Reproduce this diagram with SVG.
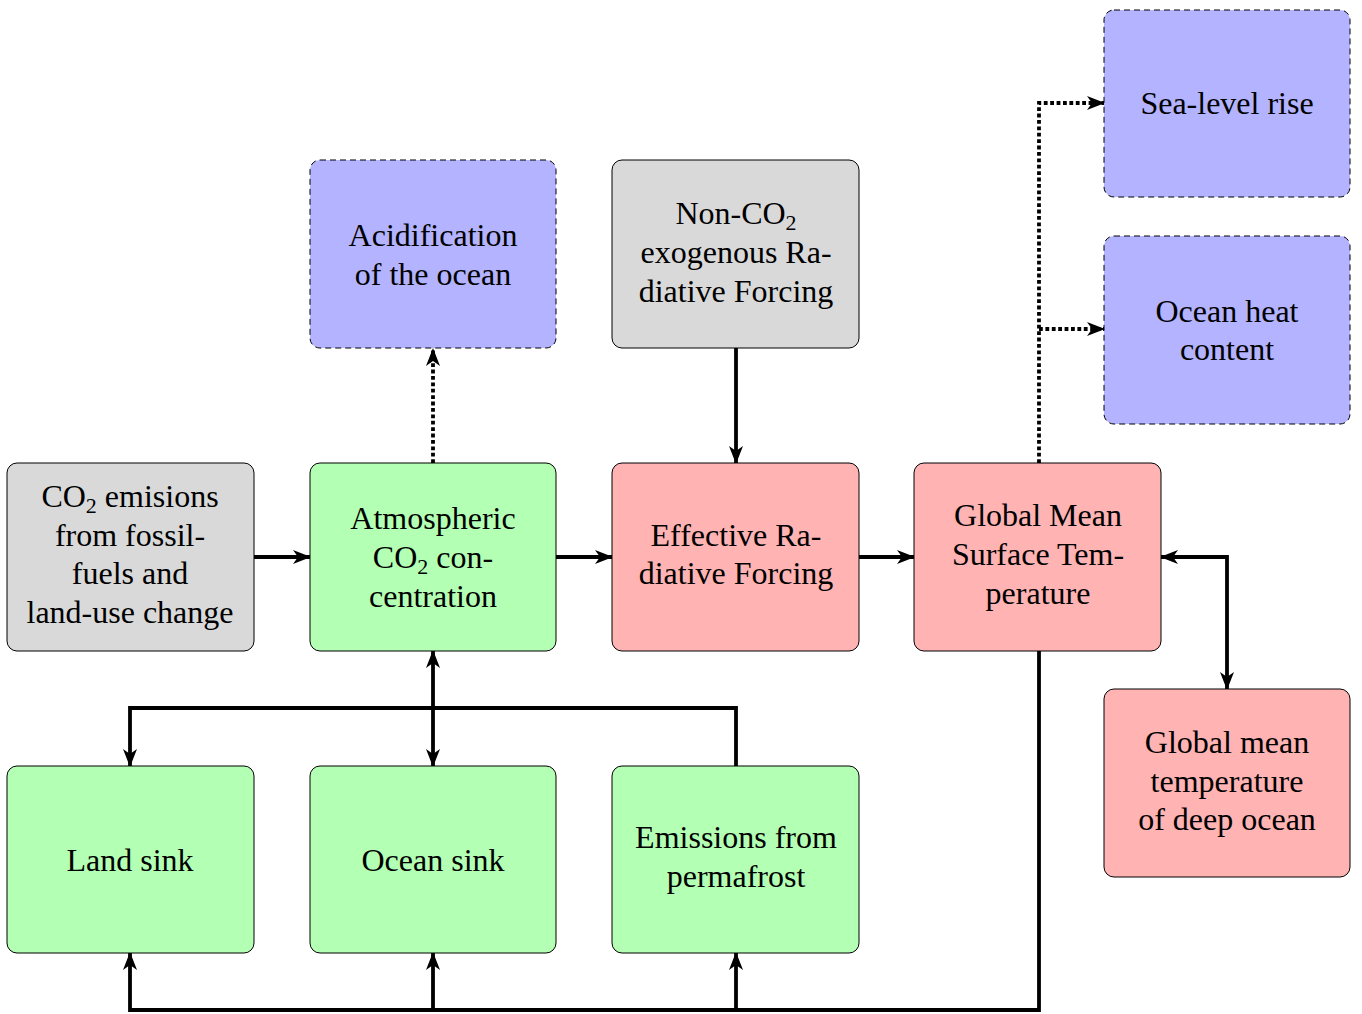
<svg xmlns="http://www.w3.org/2000/svg" width="1362" height="1014" viewBox="0 0 1362 1014">
<style>
.box{stroke:#000;stroke-width:1}
.g{fill:#b3ffb3}
.r{fill:#ffb3b3}
.k{fill:#d9d9d9}
.b{fill:#b3b3ff;stroke-dasharray:6 4}
.t{text-anchor:middle;fill:#000}
.sub{font-size:22px}
.c{fill:none;stroke:#000;stroke-width:3.8}
.d{fill:none;stroke:#000;stroke-width:3.8;stroke-dasharray:3.8 2.6}
</style>
<defs>
<marker id="ah" viewBox="0 0 18 14" refX="17" refY="7" markerWidth="18" markerHeight="14" markerUnits="userSpaceOnUse" orient="auto-start-reverse">
<path d="M0,0 L18,7 L0,14 L5,7 Z" fill="#000"/>
</marker>
</defs>
<g id="connectors">
<path class="c" d="M254,557 H310" marker-end="url(#ah)"/>
<path class="c" d="M556,557 H612" marker-end="url(#ah)"/>
<path class="c" d="M859,557 H914" marker-end="url(#ah)"/>
<path class="c" d="M736,348 V463" marker-end="url(#ah)"/>
<path class="d" d="M433,463 V349" marker-end="url(#ah)"/>
<path class="d" d="M1039,463 V103 H1104" marker-end="url(#ah)"/>
<path class="d" d="M1039,329 H1104" marker-end="url(#ah)"/>
<path class="c" d="M1161,557 H1227 V689" marker-start="url(#ah)" marker-end="url(#ah)"/>
<path class="c" d="M433,651 V766" marker-start="url(#ah)" marker-end="url(#ah)"/>
<path class="c" d="M736,766 V708 H130 V766" marker-end="url(#ah)"/>
<path class="c" d="M1039,651 V1010 H130 V953" marker-end="url(#ah)"/>
<path class="c" d="M433,1010 V953" marker-end="url(#ah)"/>
<path class="c" d="M736,1010 V953" marker-end="url(#ah)"/>
</g>
<g font-family="Liberation Serif, serif" font-size="32">
<g id="acid"><rect class="box b" x="310" y="160" width="246" height="188" rx="10"/>
<text class="t" x="433" y="246">Acidification</text><text class="t" x="433" y="285">of the ocean</text></g>
<g id="nonco2"><rect class="box k" x="612" y="160" width="247" height="188" rx="10"/>
<text class="t" x="736" y="224">Non-CO<tspan class="sub" dy="6">2</tspan></text><text class="t" x="736" y="263">exogenous Ra-</text><text class="t" x="736" y="302">diative Forcing</text></g>
<g id="sealevel"><rect class="box b" x="1104" y="10" width="246" height="187" rx="10"/>
<text class="t" x="1227" y="114">Sea-level rise</text></g>
<g id="oceanheat"><rect class="box b" x="1104" y="236" width="246" height="188" rx="10"/>
<text class="t" x="1227" y="322">Ocean heat</text><text class="t" x="1227" y="360">content</text></g>
<g id="emis"><rect class="box k" x="7" y="463" width="247" height="188" rx="10"/>
<text class="t" x="130" y="507">CO<tspan class="sub" dy="6">2</tspan><tspan dy="-6"> emisions</tspan></text><text class="t" x="130" y="546">from fossil-</text><text class="t" x="130" y="584">fuels and</text><text class="t" x="130" y="623">land-use change</text></g>
<g id="atm"><rect class="box g" x="310" y="463" width="246" height="188" rx="10"/>
<text class="t" x="433" y="529">Atmospheric</text><text class="t" x="433" y="568">CO<tspan class="sub" dy="6">2</tspan><tspan dy="-6"> con-</tspan></text><text class="t" x="433" y="607">centration</text></g>
<g id="erf"><rect class="box r" x="612" y="463" width="247" height="188" rx="10"/>
<text class="t" x="736" y="546">Effective Ra-</text><text class="t" x="736" y="584">diative Forcing</text></g>
<g id="gmst"><rect class="box r" x="914" y="463" width="247" height="188" rx="10"/>
<text class="t" x="1038" y="526">Global Mean</text><text class="t" x="1038" y="565">Surface Tem-</text><text class="t" x="1038" y="604">perature</text></g>
<g id="deep"><rect class="box r" x="1104" y="689" width="246" height="188" rx="10"/>
<text class="t" x="1227" y="753">Global mean</text><text class="t" x="1227" y="792">temperature</text><text class="t" x="1227" y="830">of deep ocean</text></g>
<g id="land"><rect class="box g" x="7" y="766" width="247" height="187" rx="10"/>
<text class="t" x="130" y="871">Land sink</text></g>
<g id="ocean"><rect class="box g" x="310" y="766" width="246" height="187" rx="10"/>
<text class="t" x="433" y="871">Ocean sink</text></g>
<g id="perma"><rect class="box g" x="612" y="766" width="247" height="187" rx="10"/>
<text class="t" x="736" y="848">Emissions from</text><text class="t" x="736" y="887">permafrost</text></g>
</g>
</svg>
